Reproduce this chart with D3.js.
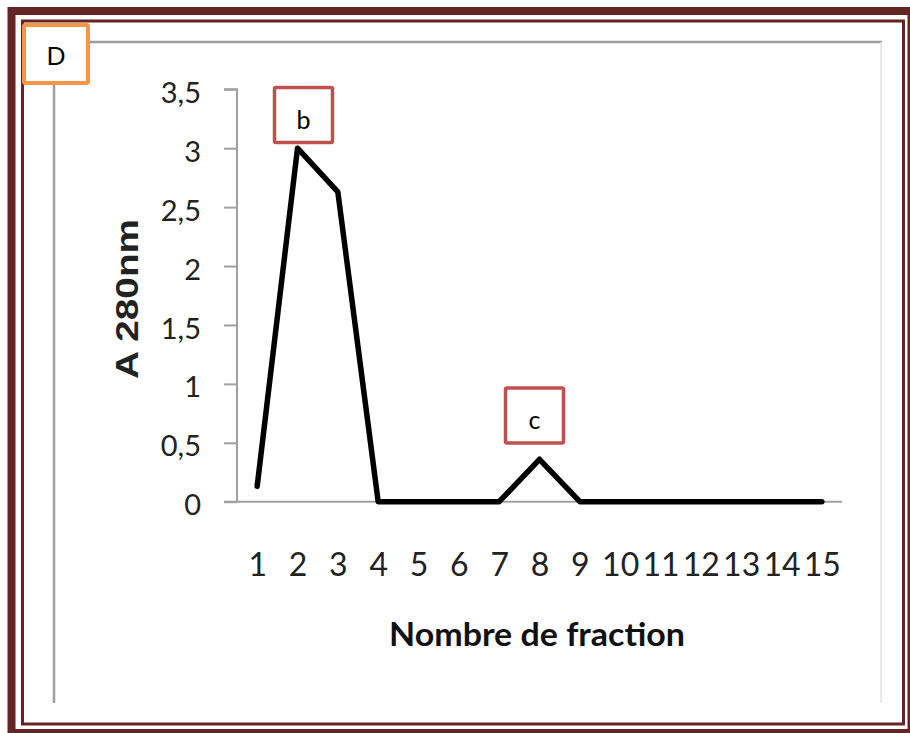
<!DOCTYPE html>
<html>
<head>
<meta charset="utf-8">
<script src="https://cdn.jsdelivr.net/npm/d3@7"></script>
<style>
  html, body { margin: 0; padding: 0; background: #ffffff; }
  svg { display: block; }
</style>
</head>
<body>
<svg id="chart" width="910" height="733"></svg>
<script>
// ---- data ----
const fractions = [1, 2, 3, 4, 5, 6, 7, 8, 9, 10, 11, 12, 13, 14, 15];
const absorbance = [0.13, 3.0, 2.63, 0, 0, 0, 0, 0.36, 0, 0, 0, 0, 0, 0, 0];
const yTicks = [0, 0.5, 1, 1.5, 2, 2.5, 3, 3.5];
const panelLabel = "D";
const peakLabels = [{ fraction: 2, text: "b" }, { fraction: 8, text: "c" }];
const yTitle = "A 280nm";
const xTitle = "Nombre de fraction";

const svg = d3.select("#chart");
const darkRed = "#632423";

// page border (thick outer, thin inner)
svg.append("rect").attr("x", 11.5).attr("y", 11).attr("width", 900).attr("height", 722)
  .attr("fill", "none").attr("stroke", darkRed).attr("stroke-width", 8);
svg.append("rect").attr("x", 22.5).attr("y", 21).attr("width", 881).attr("height", 703)
  .attr("fill", "none").attr("stroke", darkRed).attr("stroke-width", 3);

// chart frame (gray)
svg.append("line").attr("x1", 53).attr("x2", 882).attr("y1", 42).attr("y2", 42)
  .attr("stroke", "#9c9c9c").attr("stroke-width", 2.5);
svg.append("line").attr("x1", 54).attr("x2", 54).attr("y1", 42).attr("y2", 703)
  .attr("stroke", "#a0a0a0").attr("stroke-width", 2.5);
svg.append("line").attr("x1", 881).attr("x2", 881).attr("y1", 42).attr("y2", 703)
  .attr("stroke", "#e2e2e2").attr("stroke-width", 1.5);

// scales
const x = d3.scalePoint().domain(fractions).range([237, 842]).padding(0.5);
const y = d3.scaleLinear().domain([0, 3.5]).range([501.7, 89.3]);
const fmt = v => String(v).replace(".", ",");

// y axis
const yAxis = d3.axisLeft(y).tickValues(yTicks).tickSize(13).tickPadding(23).tickFormat(fmt);
const gy = svg.append("g").attr("transform", "translate(237,0)").call(yAxis);
gy.select(".domain").attr("stroke", "#a0a0a0").attr("stroke-width", 2).attr("d", "M-13,89.3H0V501.7");
gy.selectAll(".tick line").attr("stroke", "#a0a0a0").attr("stroke-width", 2);
gy.selectAll(".tick text")
  .attr("font-family", "Lato, 'Open Sans', sans-serif").attr("font-size", 29)
  .attr("fill", "#222").attr("dy", "0.45em");

// x axis
const xAxis = d3.axisBottom(x).tickSize(0).tickPadding(0);
const gx = svg.append("g").attr("transform", "translate(0,501.7)").call(xAxis);
gx.select(".domain").attr("stroke", "#a0a0a0").attr("stroke-width", 2).attr("d", "M224,0H842");
gx.selectAll(".tick text")
  .attr("font-family", "Lato, 'Open Sans', sans-serif").attr("font-size", 32)
  .attr("fill", "#222").attr("y", 74).attr("dy", 0);

// line
const line = d3.line().x((d, i) => x(fractions[i])).y(d => y(d));
svg.append("path").datum(absorbance).attr("d", line)
  .attr("fill", "none").attr("stroke", "#000").attr("stroke-width", 5.5)
  .attr("stroke-linejoin", "round").attr("stroke-linecap", "round");

// axis titles
svg.append("text").attr("transform", "translate(138,299) rotate(-90)")
  .attr("text-anchor", "middle").attr("font-family", "'Liberation Sans', Arial, sans-serif")
  .attr("font-weight", "bold").attr("font-size", 31).attr("fill", "#222")
  .attr("textLength", 160).attr("lengthAdjust", "spacingAndGlyphs").text(yTitle);
svg.append("text").attr("x", 537).attr("y", 646).attr("text-anchor", "middle")
  .attr("font-family", "Lato, 'Open Sans', sans-serif").attr("font-weight", "bold")
  .attr("font-size", 33).attr("fill", "#111")
  .attr("textLength", 296).attr("lengthAdjust", "spacingAndGlyphs").text(xTitle);

// panel label box
svg.append("rect").attr("x", 24).attr("y", 25).attr("width", 64).attr("height", 58)
  .attr("fill", "#fff").attr("stroke", "#F79646").attr("stroke-width", 4).attr("rx", 1.5);
svg.append("text").attr("x", 56).attr("y", 65).attr("text-anchor", "middle")
  .attr("font-family", "Lato, 'Open Sans', sans-serif").attr("font-size", 25).attr("fill", "#000")
  .text(panelLabel);

// peak label boxes
const boxW = 58, boxH = 55;
const boxTop = { b: 87.5, c: 388 };
peakLabels.forEach(p => {
  const cx = x(p.fraction) + (p.text === "b" ? 6 : -5);
  const g = svg.append("g");
  g.append("rect").attr("x", cx - boxW / 2).attr("y", boxTop[p.text]).attr("width", boxW).attr("height", boxH)
    .attr("fill", "#fff").attr("stroke", "#C0504D").attr("stroke-width", 3.5).attr("rx", 1.5);
  g.append("text").attr("x", cx).attr("y", boxTop[p.text] + 41).attr("text-anchor", "middle")
    .attr("font-family", "Lato, 'Open Sans', sans-serif").attr("font-size", 25).attr("fill", "#000")
    .text(p.text);
});
</script>
</body>
</html>
